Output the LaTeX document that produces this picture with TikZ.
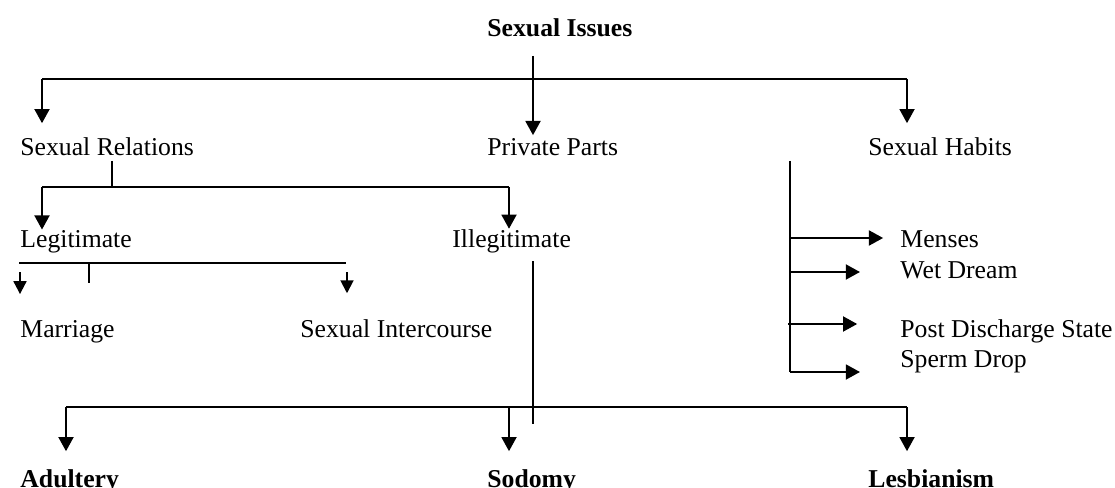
\documentclass[tikz,border=0pt]{standalone}
\usepackage{fontspec}
\setmainfont{Liberation Serif}
\usepackage{tikz}
\usetikzlibrary{arrows.meta}
\tikzset{
  si-text/.style={font=\fontsize{12}{14}\selectfont, inner sep=0pt,
    anchor=base west},
  si-bold/.style={si-text, font=\fontsize{12}{14}\selectfont\bfseries},
  si-line/.style={line width=0.9pt, draw=black},
  si-arrow/.style={si-line, -{Triangle[length=6.6pt, width=7pt]}},
  si-small/.style={si-line, -{Triangle[length=6pt, width=6pt]}}
}

\begin{document}
\begin{tikzpicture}[x=0.467pt, y=-0.467pt]
\useasboundingbox (0,0) rectangle (1115,488);

% Labels
\node[si-bold] (issues) at (487,37) {Sexual Issues};
\node[si-text] (relations) at (20,156) {Sexual Relations};
\node[si-text] (parts) at (487,156) {Private Parts};
\node[si-text] (habits) at (868,156) {Sexual Habits};
\node[si-text] (legit) at (20,247) {Legitimate};
\node[si-text] (illegit) at (452,247) {Illegitimate};
\node[si-text] (marriage) at (20,337) {Marriage};
\node[si-text] (intercourse) at (300,337) {Sexual Intercourse};
\node[si-text] (menses) at (900,247) {Menses};
\node[si-text] (wet) at (900,278) {Wet Dream};
\node[si-text] (post) at (900,337) {Post Discharge State};
\node[si-text] (sperm) at (900,367) {Sperm Drop};
\node[si-bold] (adultery) at (20,487) {Adultery};
\node[si-bold] (sodomy) at (487,487) {Sodomy};
\node[si-bold] (lesbianism) at (868,487) {Lesbianism};

% Root
\coordinate (rootTop) at (533,56);
\coordinate (rootL) at (42,79);
\coordinate (rootR) at (907,79);
\draw[si-line] (rootL) -- (rootR);
\draw[si-arrow, shorten >=1.6pt] (rootTop) -- (rootTop |- parts.north);
\draw[si-arrow, shorten >=6.8pt] (rootL) -- (rootL |- relations.north);
\draw[si-arrow, shorten >=6.8pt] (rootR) -- (rootR |- habits.north);

% Relations
\coordinate (relTop) at (112,161);
\coordinate (relL) at (42,187);
\coordinate (relR) at (509,187);
\draw[si-line] (relTop) -- (relTop |- relL);
\draw[si-line] (relL) -- (relR);
\draw[si-arrow] (relL) -- (relL |- legit.north);
\draw[si-arrow] (relR) -- (relR |- illegit.north);

% Legitimate
\coordinate (legL) at (19,263);
\coordinate (legR) at (346,263);
\coordinate (legStub) at (89,263);
\coordinate (marTop) at (20,272);
\coordinate (intTop) at (347,272);
\draw[si-line] (legL) -- (legR);
\draw[si-line] (legStub) -- ++(0,20);
\draw[si-small, shorten >=11.9pt] (marTop) -- (marTop |- marriage.north);
\draw[si-small, shorten >=11.9pt] (intTop) -- (intTop |- intercourse.north);

% Illegitimate
\coordinate (illTop) at (533,261);
\coordinate (illBot) at (533,424);
\coordinate (botL) at (66,407);
\coordinate (botM) at (509,407);
\coordinate (botR) at (907,407);
\draw[si-line] (illTop) -- (illBot);
\draw[si-line] (botL) -- (botR);
\draw[si-arrow, shorten >=8.2pt] (botL) -- (botL |- adultery.north);
\draw[si-arrow, shorten >=8.2pt] (botM) -- (botM |- sodomy.north);
\draw[si-arrow, shorten >=8.2pt] (botR) -- (botR |- lesbianism.north);

% Habits
\coordinate (habTop) at (790,161);
\coordinate (habBot) at (790,372);
\coordinate (hab1) at (790,238);
\coordinate (hab2) at (790,272);
\coordinate (hab3) at (788,324);
\draw[si-line] (habTop) -- (habBot);
\draw[si-arrow, shorten >=7.9pt] (hab1) -- (hab1 -| menses.west);
\draw[si-arrow, shorten >=18.7pt] (hab2) -- (hab2 -| wet.west);
\draw[si-arrow, shorten >=20pt] (hab3) -- (hab3 -| post.west);
\draw[si-arrow, shorten >=18.7pt] (habBot) -- (habBot -| sperm.west);
\end{tikzpicture}
\end{document}
